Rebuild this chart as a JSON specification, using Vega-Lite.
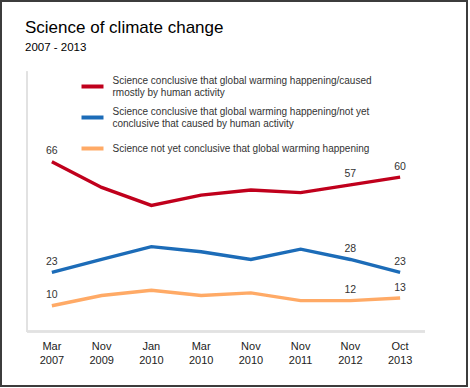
{
  "$schema": "https://vega.github.io/schema/vega-lite/v6.json",
  "width": 466,
  "height": 385,
  "autosize": {"type": "none"},
  "padding": {"left": 1, "top": 1, "right": 3, "bottom": 2},
  "background": "white",
  "title": {
    "text": "Science of climate change",
    "subtitle": "2007 - 2013",
    "anchor": "start",
    "frame": "group",
    "dx": 24,
    "offset": -53,
    "font": "Liberation Sans Narrow, Liberation Sans",
    "fontSize": 17,
    "fontWeight": "normal",
    "color": "#000000",
    "subtitleFont": "Liberation Sans",
    "subtitleFontSize": 11.5,
    "subtitleColor": "#000000",
    "subtitlePadding": 5
  },
  "config": {
    "view": {"stroke": "#3c3c3c", "strokeWidth": 2},
    "font": "Liberation Sans"
  },
  "data": {
    "values": [
      {"date": "Mar 2007", "series": "Science conclusive that global warming happening/caused rmostly by human activity", "value": 66},
      {"date": "Nov 2009", "series": "Science conclusive that global warming happening/caused rmostly by human activity", "value": 56},
      {"date": "Jan 2010", "series": "Science conclusive that global warming happening/caused rmostly by human activity", "value": 49},
      {"date": "Mar 2010", "series": "Science conclusive that global warming happening/caused rmostly by human activity", "value": 53},
      {"date": "Nov 2010", "series": "Science conclusive that global warming happening/caused rmostly by human activity", "value": 55},
      {"date": "Nov 2011", "series": "Science conclusive that global warming happening/caused rmostly by human activity", "value": 54},
      {"date": "Nov 2012", "series": "Science conclusive that global warming happening/caused rmostly by human activity", "value": 57},
      {"date": "Oct 2013", "series": "Science conclusive that global warming happening/caused rmostly by human activity", "value": 60},
      {"date": "Mar 2007", "series": "Science conclusive that global warming happening/not yet conclusive that caused by human activity", "value": 23},
      {"date": "Nov 2009", "series": "Science conclusive that global warming happening/not yet conclusive that caused by human activity", "value": 28},
      {"date": "Jan 2010", "series": "Science conclusive that global warming happening/not yet conclusive that caused by human activity", "value": 33},
      {"date": "Mar 2010", "series": "Science conclusive that global warming happening/not yet conclusive that caused by human activity", "value": 31},
      {"date": "Nov 2010", "series": "Science conclusive that global warming happening/not yet conclusive that caused by human activity", "value": 28},
      {"date": "Nov 2011", "series": "Science conclusive that global warming happening/not yet conclusive that caused by human activity", "value": 32},
      {"date": "Nov 2012", "series": "Science conclusive that global warming happening/not yet conclusive that caused by human activity", "value": 28},
      {"date": "Oct 2013", "series": "Science conclusive that global warming happening/not yet conclusive that caused by human activity", "value": 23},
      {"date": "Mar 2007", "series": "Science not yet conclusive that global warming happening", "value": 10},
      {"date": "Nov 2009", "series": "Science not yet conclusive that global warming happening", "value": 14},
      {"date": "Jan 2010", "series": "Science not yet conclusive that global warming happening", "value": 16},
      {"date": "Mar 2010", "series": "Science not yet conclusive that global warming happening", "value": 14},
      {"date": "Nov 2010", "series": "Science not yet conclusive that global warming happening", "value": 15},
      {"date": "Nov 2011", "series": "Science not yet conclusive that global warming happening", "value": 12},
      {"date": "Nov 2012", "series": "Science not yet conclusive that global warming happening", "value": 12},
      {"date": "Oct 2013", "series": "Science not yet conclusive that global warming happening", "value": 13}
    ]
  },
  "encoding": {
    "x": {
      "field": "date",
      "type": "ordinal",
      "bandPosition": 0.5,
      "scale": {
        "type": "band",
        "domain": ["Mar 2007", "Nov 2009", "Jan 2010", "Mar 2010", "Nov 2010", "Nov 2011", "Nov 2012", "Oct 2013"],
        "paddingInner": 0,
        "paddingOuter": 0.6834,
        "align": 0.3824
      },
      "axis": {
        "title": null,
        "orient": "bottom",
        "offset": -54,
        "domain": false,
        "ticks": false,
        "grid": false,
        "labelAngle": 0,
        "labelExpr": "split(datum.label, ' ')",
        "labelFont": "Liberation Sans",
        "labelFontSize": 11,
        "labelLineHeight": 14,
        "labelColor": "#222222",
        "labelPadding": 8
      }
    },
    "y": {
      "field": "value",
      "type": "quantitative",
      "scale": {"domain": [-21.2, 128.5], "nice": false, "zero": false},
      "axis": null
    }
  },
  "layer": [
    {
      "mark": {"type": "rule", "color": "#e2e2e2", "strokeWidth": 1.5, "clip": false},
      "encoding": {
        "x": {"datum": "Mar 2007", "type": "ordinal", "bandPosition": 0},
        "y": {"datum": 0},
        "y2": {"datum": 101}
      }
    },
    {
      "mark": {"type": "rule", "color": "#e2e2e2", "strokeWidth": 1.5, "clip": false},
      "encoding": {
        "x": {"datum": "Mar 2007", "type": "ordinal", "bandPosition": 0},
        "x2": {"datum": "Oct 2013", "bandPosition": 1},
        "y": {"datum": 0}
      }
    },
    {
      "mark": {"type": "line", "strokeWidth": 3.4},
      "encoding": {
        "color": {
          "field": "series",
          "type": "nominal",
          "scale": {
            "domain": [
              "Science conclusive that global warming happening/caused rmostly by human activity",
              "Science conclusive that global warming happening/not yet conclusive that caused by human activity",
              "Science not yet conclusive that global warming happening"
            ],
            "range": ["#c0001c", "#1c6cb8", "#ffaa66"]
          },
          "legend": {
            "title": null,
            "orient": "none",
            "legendX": 78.5,
            "legendY": 72.5,
            "padding": 0,
            "symbolType": "stroke",
            "symbolSize": 484,
            "symbolStrokeWidth": 4,
            "rowPadding": 7,
            "labelOffset": 7,
            "labelFont": "Liberation Sans",
            "labelFontSize": 10,
            "labelColor": "#333333",
            "labelLimit": 0,
            "labelBaseline": {"expr": "datum.label == 'Science not yet conclusive that global warming happening' ? 'middle' : 'line-bottom'"},
            "labelExpr": "datum.label == 'Science conclusive that global warming happening/caused rmostly by human activity' ? ['Science conclusive that global warming happening/caused', 'rmostly by human activity'] : datum.label == 'Science conclusive that global warming happening/not yet conclusive that caused by human activity' ? ['Science conclusive that global warming happening/not yet', 'conclusive that caused by human activity'] : datum.label"
          }
        }
      }
    },
    {
      "transform": [{"filter": {"field": "date", "oneOf": ["Mar 2007", "Nov 2012", "Oct 2013"]}}],
      "mark": {"type": "text", "baseline": "alphabetic", "dy": -7.5, "font": "Liberation Sans", "fontSize": 10.5, "color": "#333333"},
      "encoding": {
        "text": {"field": "value", "type": "quantitative"}
      }
    }
  ]
}
